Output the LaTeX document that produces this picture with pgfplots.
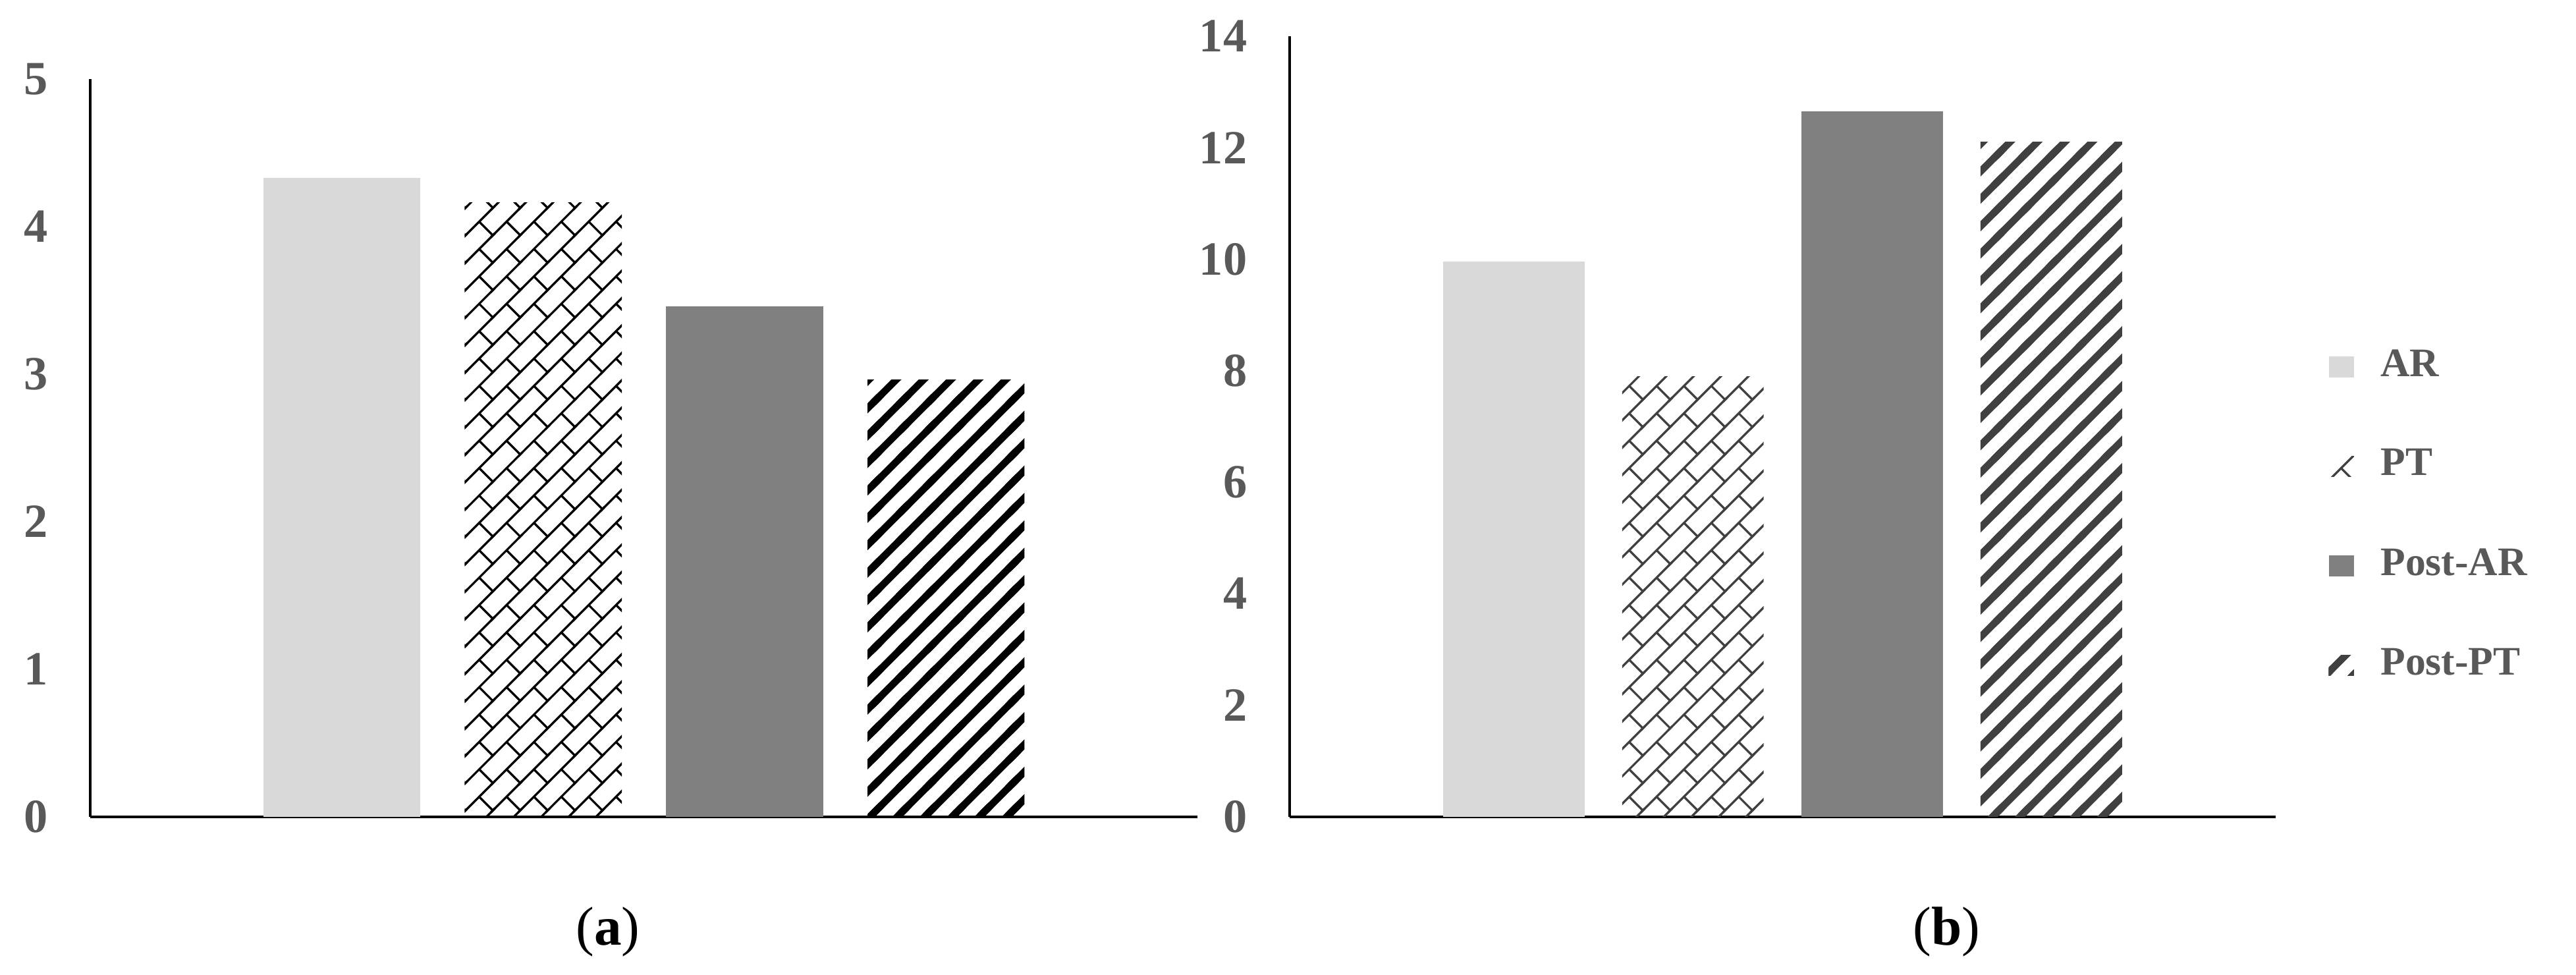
\documentclass[border=0pt]{standalone}
\usepackage{fontspec}
\setmainfont{Liberation Serif}
\usepackage{pgfplots}
\pgfplotsset{compat=1.18}
\usetikzlibrary{patterns.meta}

\definecolor{arfill}{HTML}{D9D9D9}
\definecolor{postarfill}{HTML}{808080}
\definecolor{ticktext}{HTML}{595959}
\definecolor{hatchgray}{HTML}{404040}

% diagonal brick (PT)
\pgfdeclarepattern{
  name=brick, type=uncolored,
  bottom left={\pgfpoint{-0.5pt}{-0.5pt}},
  top right={\pgfpoint{5.5pt}{5.5pt}},
  tile size={\pgfpoint{5pt}{5pt}},
  code={
    \pgfsetlinewidth{0.4pt}
    \pgfpathmoveto{\pgfpoint{-0.5pt}{-0.5pt}}
    \pgfpathlineto{\pgfpoint{5.5pt}{5.5pt}}
    \pgfpathmoveto{\pgfpoint{2.5pt}{2.5pt}}
    \pgfpathlineto{\pgfpoint{5pt}{0pt}}
    \pgfusepath{stroke}
  }
}
% wide upward diagonal (Post-PT)
\pgfdeclarepattern{
  name=widediag, type=uncolored,
  bottom left={\pgfpoint{-1pt}{-1pt}},
  top right={\pgfpoint{6pt}{6pt}},
  tile size={\pgfpoint{5pt}{5pt}},
  code={
    \pgfsetlinewidth{1.3pt}
    \pgfpathmoveto{\pgfpoint{-1pt}{-1pt}}
    \pgfpathlineto{\pgfpoint{6pt}{6pt}}
    \pgfpathmoveto{\pgfpoint{4pt}{-1pt}}
    \pgfpathlineto{\pgfpoint{6pt}{1pt}}
    \pgfpathmoveto{\pgfpoint{-1pt}{4pt}}
    \pgfpathlineto{\pgfpoint{1pt}{6pt}}
    \pgfusepath{stroke}
  }
}

\pgfplotsset{
  panel/.style={
    scale only axis, anchor=south west,
    axis x line=bottom, axis y line=left,
    axis line style={-, line width=0.45pt, black},
    xmin=-2.75, xmax=2.75, xtick=\empty,
    ymin=0, major tick length=0pt,
    /pgf/number format/assume math mode=true,
    yticklabel style={font=\fontsize{8.7}{10}\selectfont\bfseries,
      text=ticktext, inner sep=0pt, xshift=-7.6pt},
  },
  bar/.style={ybar, bar shift=0pt, draw=none,
    legend image code/.code={\fill[##1] (0pt,-1.9pt) rectangle (4.6pt,1.9pt);}},
}

\begin{document}
\begin{tikzpicture}
\path (0,0) rectangle (470.4pt,-177.3pt);

\begin{axis}[panel, at={(16.5pt,-149.1pt)}, width=202.2pt, height=134.7pt,
  ymax=5, ytick={0,1,2,3,4,5}]
\addplot[bar, bar width=0.78, fill=arfill] coordinates {(-1.5,4.33)};
\addplot[bar, bar width=0.78, pattern={brick}, pattern color=black] coordinates {(-0.5,4.16)};
\addplot[bar, bar width=0.78, fill=postarfill] coordinates {(0.5,3.46)};
\addplot[bar, bar width=0.78, pattern={widediag}, pattern color=black] coordinates {(1.5,2.96)};
\end{axis}

\begin{axis}[panel, at={(235.5pt,-149.1pt)}, width=180pt, height=142.5pt,
  ymax=14, ytick={0,2,...,14},
  legend cell align=left,
  legend style={at={(1.053,0.385)}, anchor=west, draw=none, fill=none,
    font=\fontsize{7.4}{9}\selectfont\bfseries, text=ticktext,
    row sep=6.8pt, inner sep=0pt, nodes={inner sep=2.5pt},
    /tikz/every odd column/.append style={column sep=2.4pt}}]
\addplot[bar, bar width=0.79, fill=arfill] coordinates {(-1.5,9.96)};
\addlegendentry{AR}
\addplot[bar, bar width=0.79, pattern={brick}, pattern color=hatchgray] coordinates {(-0.5,7.90)};
\addlegendentry{PT}
\addplot[bar, bar width=0.79, fill=postarfill] coordinates {(0.5,12.65)};
\addlegendentry{Post-AR}
\addplot[bar, bar width=0.79, pattern={widediag}, pattern color=hatchgray] coordinates {(1.5,12.1)};
\addlegendentry{Post-PT}
\end{axis}

\node[font=\fontsize{10}{12}\selectfont] at (111pt,-170.1pt) {(\textbf{a})};
\node[font=\fontsize{10}{12}\selectfont] at (355.5pt,-170.1pt) {(\textbf{b})};
\end{tikzpicture}
\end{document}
